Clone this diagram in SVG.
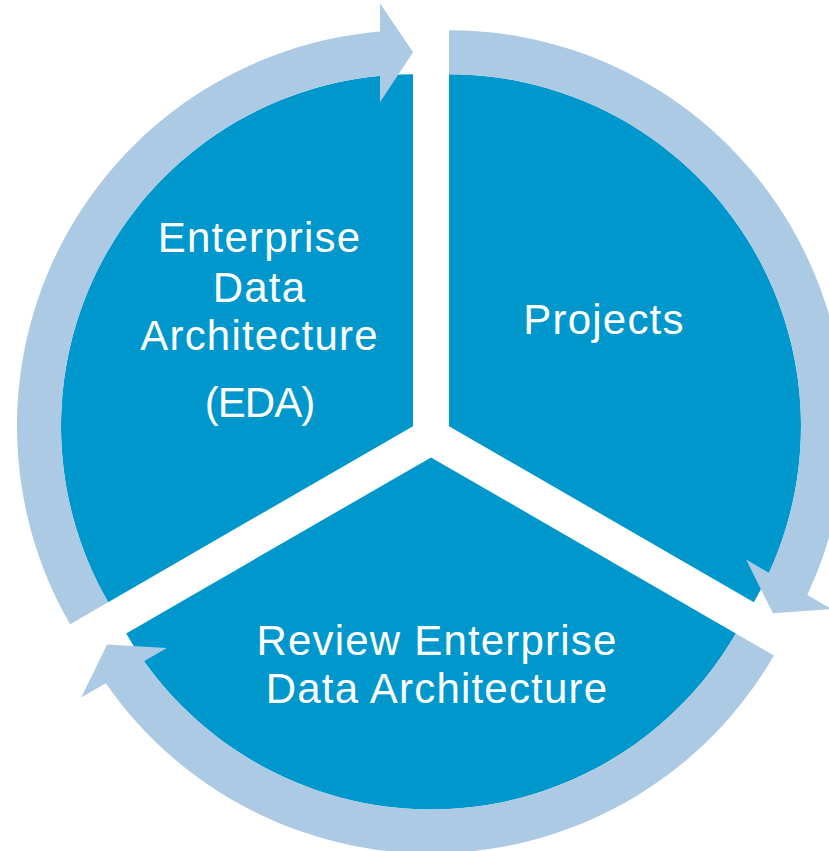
<svg xmlns="http://www.w3.org/2000/svg" width="829" height="851" viewBox="0 0 829 851">
  <style>
    .seg { fill: #0098CC; }
    .arrow { fill: #ACCAE3; }
    .lbl { fill: #FFFFFF; font-family: "Liberation Sans", Arial, sans-serif; font-size: 42px; letter-spacing: 1.2px; text-anchor: middle; }
    .tight { letter-spacing: -1px; }
  </style>
  <rect x="0" y="0" width="829" height="851" fill="#FFFFFF"/>
  <g id="node-eda">
    <path class="seg" d="M 413,426.2 L 108.16,602.2 A 352 352 0 0 1 413,74.2 Z"/>
    <text class="lbl" x="259.5" y="252">Enterprise</text>
    <text class="lbl" x="259.5" y="302">Data</text>
    <text class="lbl" x="259.5" y="350">Architecture</text>
    <text class="lbl tight" x="259.5" y="417">(EDA)</text>
  </g>
  <g id="node-projects">
    <path class="seg" d="M 449,426.2 L 449,74.2 A 352 352 0 0 1 753.84,602.2 Z"/>
    <text class="lbl" x="604" y="334">Projects</text>
  </g>
  <g id="node-review">
    <path class="seg" d="M 431,457.4 L 735.84,633.4 A 352 352 0 0 1 126.16,633.4 Z"/>
    <text class="lbl" x="437" y="655">Review Enterprise</text>
    <text class="lbl" x="437" y="703">Data Architecture</text>
  </g>
  <g id="connectors">
    <path class="arrow" d="M 108.16,602.2 L 70.05,624.2 A 396 396 0 0 1 380,31.58 L 380,3.2 L 413,52.2 L 380,102.2 L 380,75.75 A 352 352 0 0 0 108.16,602.2 Z"/>
    <path class="arrow" d="M 449,74.2 L 449,30.2 A 396 396 0 0 1 807.25,594.93 L 831.82,609.12 L 772.88,613.2 L 746.08,559.62 L 768.99,572.85 A 352 352 0 0 0 449,74.2 Z"/>
    <path class="arrow" d="M 735.84,633.4 L 773.95,655.4 A 396 396 0 0 1 105.75,683.28 L 81.18,697.46 L 107.12,644.38 L 166.92,647.96 L 144,661.18 A 352 352 0 0 0 735.84,633.4 Z"/>
  </g>
</svg>
